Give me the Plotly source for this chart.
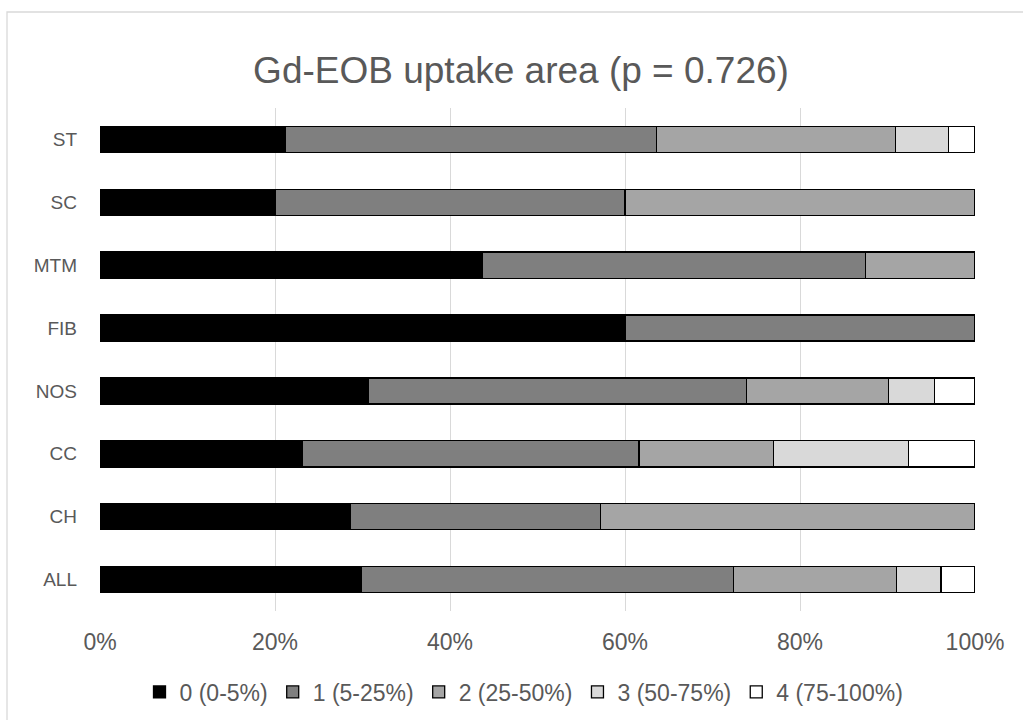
import plotly.graph_objects as go

# Lesion subtypes, top to bottom
categories = ["ST", "SC", "MTM", "FIB", "NOS", "CC", "CH", "ALL"]

# Share of lesions (%) in each Gd-EOB uptake-area grade
grade_names = ["0 (0-5%)", "1 (5-25%)", "2 (25-50%)", "3 (50-75%)", "4 (75-100%)"]
grade0 = [21.2, 20.0, 43.75, 60.0, 30.7, 23.1, 28.6, 29.9]
grade1 = [42.4, 40.0, 43.75, 40.0, 43.2, 38.5, 28.6, 42.5]
grade2 = [27.3, 40.0, 12.5, 0.0, 16.2, 15.4, 42.8, 18.6]
grade3 = [6.1, 0.0, 0.0, 0.0, 5.3, 15.4, 0.0, 5.1]
grade4 = [3.0, 0.0, 0.0, 0.0, 4.6, 7.6, 0.0, 3.9]

series = [grade0, grade1, grade2, grade3, grade4]
fills = ["#000000", "#7f7f7f", "#a5a5a5", "#d9d9d9", "#ffffff"]

W, H = 1023, 720
margin = dict(l=100, r=48, t=108, b=109)
font_family = "Liberation Sans, Arial, sans-serif"
text_color = "#595959"

fig = go.Figure()
for name, vals, col in zip(grade_names, series, fills):
    fig.add_trace(go.Bar(
        y=categories,
        x=vals,
        name=name,
        orientation="h",
        marker=dict(color=col, line=dict(color="#000000", width=1.3)),
    ))

# Outer chart frame, positioned in pixels and converted to paper units
pw = W - margin["l"] - margin["r"]
ph = H - margin["t"] - margin["b"]
def px_x(p):
    return (p - margin["l"]) / pw
def px_y(p):
    return 1 - (p - margin["t"]) / ph

fig.add_shape(
    type="rect", xref="paper", yref="paper",
    x0=px_x(7), x1=px_x(1040), y0=px_y(740), y1=px_y(12),
    line=dict(color="#d9d9d9", width=1.3), fillcolor="rgba(0,0,0,0)",
    layer="below",
)

fig.update_layout(
    width=W, height=H,
    margin=margin,
    barmode="stack",
    bargap=0.585,
    paper_bgcolor="#ffffff",
    plot_bgcolor="#ffffff",
    font=dict(family=font_family, color=text_color, size=18),
    title=dict(
        text="Gd-EOB uptake area (p = 0.726)",
        x=521 / W, xref="container", xanchor="center",
        y=1 - 70 / H, yref="container", yanchor="middle",
        font=dict(size=37, color=text_color, family=font_family),
    ),
    xaxis=dict(
        range=[0, 100],
        tickvals=[0, 20, 40, 60, 80, 100],
        ticktext=["0%", "20%", "40%", "60%", "80%", "100%"],
        showgrid=True, gridcolor="#d9d9d9", gridwidth=1.3,
        zeroline=False, showline=False, ticks="",
        ticklabelstandoff=15,
        tickfont=dict(size=23, color=text_color),
        automargin=False,
        fixedrange=True,
    ),
    yaxis=dict(
        autorange="reversed",
        showgrid=False, zeroline=False, showline=False, ticks="",
        ticklabelstandoff=22,
        tickfont=dict(size=19, color=text_color),
        automargin=False,
        fixedrange=True,
    ),
    legend=dict(
        orientation="h",
        xref="container", x=524 / W, xanchor="center",
        yref="container", y=1 - 692 / H, yanchor="middle",
        font=dict(size=23, color=text_color),
        traceorder="normal",
        itemwidth=30,
        bgcolor="rgba(0,0,0,0)",
    ),
    showlegend=True,
)

fig.write_html("out.html")
